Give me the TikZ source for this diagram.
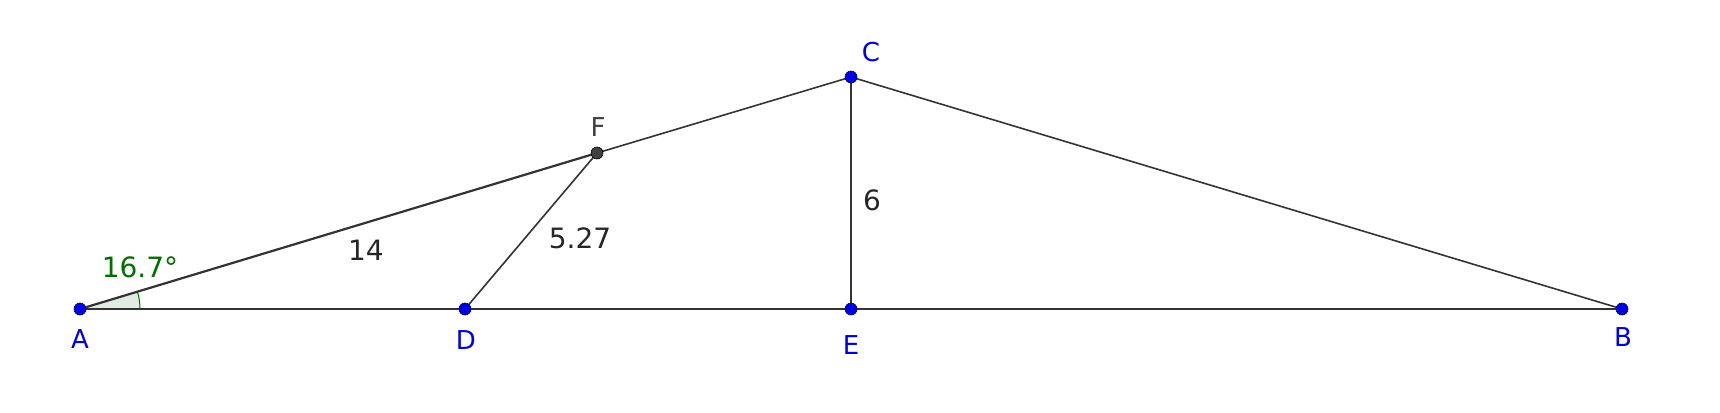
\documentclass[tikz,border=0pt]{standalone}
\usepackage{fontspec}
\setmainfont{DejaVu Sans}
\definecolor{ptblue}{RGB}{0,0,230}
\definecolor{ptgray}{RGB}{64,64,64}
\definecolor{anggreen}{RGB}{0,110,0}
\definecolor{angfill}{RGB}{225,235,225}
\begin{document}
\begin{tikzpicture}[x=1pt,y=-1pt,
  seg/.style={draw=ptgray!80!black,line width=1.6pt},
  ptdot/.style={circle,fill=ptblue,draw=black!60!ptblue,line width=0.6pt,inner sep=0pt,minimum size=12pt},
  fdot/.style={circle,fill=ptgray,draw=black,line width=0.6pt,inner sep=0pt,minimum size=12pt},
  ptlab/.style={text=ptblue,font=\fontsize{26}{30}\selectfont},
  vallab/.style={text=black!85,font=\fontsize{28}{32}\selectfont}]
\useasboundingbox (0,0) rectangle (1720,412);
\coordinate (A) at (80,309);
\coordinate (D) at (465,309);
\coordinate (E) at (851,309);
\coordinate (B) at (1622,309);
\coordinate (C) at (851,77);
\coordinate (F) at (597,153);
% angle at A
\fill[angfill] (A) -- ++(0:60) arc[start angle=0,end angle=-16.7,radius=60] -- cycle;
\draw[anggreen,line width=1pt] (A) ++(0:60) arc[start angle=0,end angle=-16.7,radius=60];
% segments
\draw[seg] (A) -- (B);
\draw[seg] (B) -- (C);
\draw[seg] (C) -- (E);
\draw[seg] (F) -- (C);
\draw[seg,line width=2.2pt] (A) -- (F);
\draw[seg] (D) -- (F);
% points
\node[ptdot] (nA) at (A) {};
\node[ptdot] (nD) at (D) {};
\node[ptdot] (nE) at (E) {};
\node[ptdot] (nB) at (B) {};
\node[ptdot] (nC) at (C) {};
\node[fdot] (nF) at (F) {};
% labels
\node[ptlab] (lA) at (80,339) {A};
\node[ptlab] (lD) at (466,340) {D};
\node[ptlab] (lE) at (851,345) {E};
\node[ptlab] (lB) at (1623,337) {B};
\node[ptlab] (lC) at (871,52) {C};
\node[ptlab,text=ptgray] (lF) at (598,127) {F};
\node[vallab,text=anggreen] (ang) at (140,267) {16.7°};
\node[vallab] (l14) at (366,250) {14};
\node[vallab] (l527) at (580,238) {5.27};
\node[vallab] (l6) at (872,200) {6};
\end{tikzpicture}
\end{document}
